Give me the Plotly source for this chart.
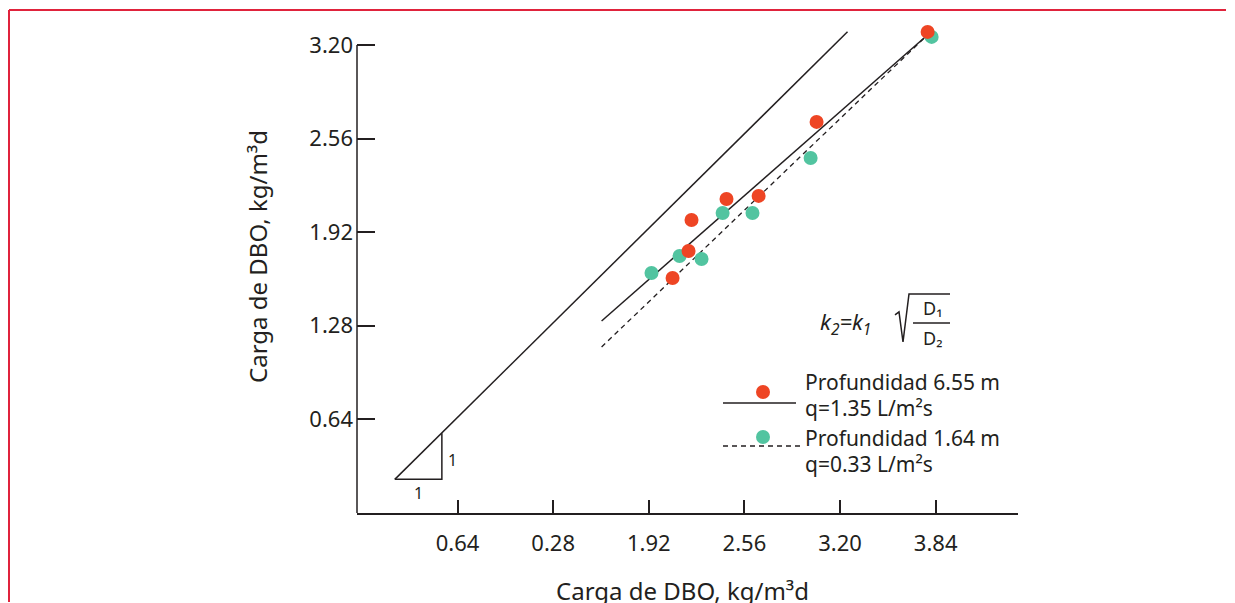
import plotly.graph_objects as go

# ---------------- data ----------------
deep_x = [3.786, 3.043, 2.206, 2.440, 2.655, 2.186, 2.079]
deep_y = [3.289, 2.674, 2.003, 2.147, 2.168, 1.791, 1.607]
shallow_x = [3.813, 3.003, 2.414, 2.614, 2.126, 2.273, 1.938]
shallow_y = [3.255, 2.427, 2.051, 2.051, 1.757, 1.737, 1.641]

fit_x = [1.604, 3.785]
fit_deep_y = [1.313, 3.268]
fit_shallow_y = [1.135, 3.268]
identity_x = [0.22, 3.25]
identity_y = [0.23, 3.29]
slope_tri_x = [0.22, 0.535, 0.535]
slope_tri_y = [0.23, 0.23, 0.545]

tick_vals = [0.64, 1.28, 1.92, 2.56, 3.20, 3.84]
x_tick_text = ["0.64", "0.28", "1.92", "2.56", "3.20", "3.84"]
y_tick_text = ["0.64", "1.28", "1.92", "2.56", "3.20"]

RED = "#EE4524"
GREEN = "#52C4A0"
INK = "#231F20"
FONT = "Noto Sans"

OFF = 8  # page offset of the figure (body margin)
W, H = 1235 - OFF, 603 - OFF
Y_TOP = 3.35
Y_AXIS_END = 3.2
L, R, B = 357, 1018, 513  # plot area in page pixels
T = B - Y_TOP * (468 / 3.2)


def px(x):
    return (x - L) / (R - L)


def py(y):
    return (B - y) / (B - T)


fig = go.Figure()

fig.add_trace(go.Scatter(x=identity_x, y=identity_y, mode="lines",
                         line=dict(color=INK, width=1.5), showlegend=False, hoverinfo="skip"))
fig.add_trace(go.Scatter(x=slope_tri_x, y=slope_tri_y, mode="lines",
                         line=dict(color=INK, width=1.5), showlegend=False, hoverinfo="skip"))
fig.add_trace(go.Scatter(x=fit_x, y=fit_deep_y, mode="lines",
                         line=dict(color=INK, width=1.5), showlegend=False, hoverinfo="skip"))
fig.add_trace(go.Scatter(x=fit_x, y=fit_shallow_y, mode="lines",
                         line=dict(color=INK, width=1.3, dash="5px,4px"), showlegend=False, hoverinfo="skip"))
fig.add_trace(go.Scatter(x=shallow_x, y=shallow_y, mode="markers", cliponaxis=False,
                         marker=dict(color=GREEN, size=14, line=dict(width=0)),
                         name="Profundidad 1.64 m", showlegend=False))
fig.add_trace(go.Scatter(x=deep_x, y=deep_y, mode="markers", cliponaxis=False,
                         marker=dict(color=RED, size=14, line=dict(width=0)),
                         name="Profundidad 6.55 m", showlegend=False))


def note(x, y, text, size, **kw):
    d = dict(x=px(x), y=py(y), xref="paper", yref="paper", text=text, showarrow=False,
             xanchor="center", yanchor="middle",
             font=dict(family=FONT, size=size, color=INK))
    d.update(kw)
    return d


ann = [
    note(418, 493, "1", 16),
    note(452, 460, "1", 16),
    note(845, 323, "<i>k<sub>2</sub>=k<sub>1</sub></i>", 22),
    note(932, 308, "D₁", 18),
    note(932, 338, "D₂", 18),
    note(803, 382, "Profundidad 6.55 m", 21, xanchor="left"),
    note(803, 408, "q=1.35 L/m²s", 21, xanchor="left"),
    note(803, 438, "Profundidad 1.64 m", 21, xanchor="left"),
    note(803, 464, "q=0.33 L/m²s", 21, xanchor="left"),
    note(682, 590, "Carga de DBO, kg/m³d", 24),
    note(258, 257, "Carga de DBO, kg/m³d", 24, textangle=-90),
]

shapes = []
# red frame (top and left edges visible)
shapes.append(dict(type="line", xref="paper", yref="paper",
                   x0=px(9), x1=px(1226), y0=py(10), y1=py(10),
                   line=dict(color="#E0233C", width=2), layer="below"))
shapes.append(dict(type="line", xref="paper", yref="paper",
                   x0=px(9), x1=px(9), y0=py(10), y1=py(602),
                   line=dict(color="#E0233C", width=2), layer="below"))
# y axis line (stops at the 3.20 tick)
shapes.append(dict(type="line", xref="paper", yref="y",
                   x0=0, x1=0, y0=0, y1=Y_AXIS_END,
                   line=dict(color=INK, width=1.5)))
# radical sign
rad = (f"M {px(895)},{py(315)} L {px(899)},{py(312)} L {px(903)},{py(342)} "
       f"L {px(909)},{py(294)} L {px(950)},{py(294)}")
shapes.append(dict(type="path", xref="paper", yref="paper", path=rad,
                   line=dict(color=INK, width=1.5)))
shapes.append(dict(type="line", xref="paper", yref="paper",
                   x0=px(913), x1=px(950), y0=py(323), y1=py(323),
                   line=dict(color=INK, width=1.3)))
# legend keys
shapes.append(dict(type="line", xref="paper", yref="paper",
                   x0=px(723), x1=px(796), y0=py(403), y1=py(403),
                   line=dict(color=INK, width=1.5)))
shapes.append(dict(type="line", xref="paper", yref="paper",
                   x0=px(723), x1=px(800), y0=py(446), y1=py(446),
                   line=dict(color=INK, width=1.3, dash="5px,4px")))
for cy, col in [(392, RED), (437, GREEN)]:
    shapes.append(dict(type="circle", xref="paper", yref="paper",
                       xsizemode="pixel", ysizemode="pixel",
                       xanchor=px(763), yanchor=py(cy),
                       x0=-7, x1=7, y0=-7, y1=7,
                       fillcolor=col, line=dict(width=0)))

fig.update_layout(
    width=W, height=H,
    margin=dict(l=L - OFF, r=W - (R - OFF), t=T - OFF, b=H - (B - OFF)),
    paper_bgcolor="white", plot_bgcolor="white",
    annotations=ann, shapes=shapes,
    font=dict(family=FONT, color=INK),
    xaxis=dict(range=[-0.033, 4.391], showgrid=False, zeroline=False,
               showline=True, linecolor=INK, linewidth=1.5,
               ticks="inside", ticklen=13, tickwidth=1.5, tickcolor=INK,
               tickvals=tick_vals, ticktext=x_tick_text,
               ticklabelstandoff=10,
               tickfont=dict(family=FONT, size=22, color=INK)),
    yaxis=dict(range=[0, Y_TOP], showgrid=False, zeroline=False,
               showline=False,
               ticks="inside", ticklen=18, tickwidth=1.5, tickcolor=INK,
               tickvals=tick_vals[:5], ticktext=y_tick_text,
               ticklabelstandoff=3,
               tickfont=dict(family=FONT, size=22, color=INK)),
)

fig.write_html("out.html")
